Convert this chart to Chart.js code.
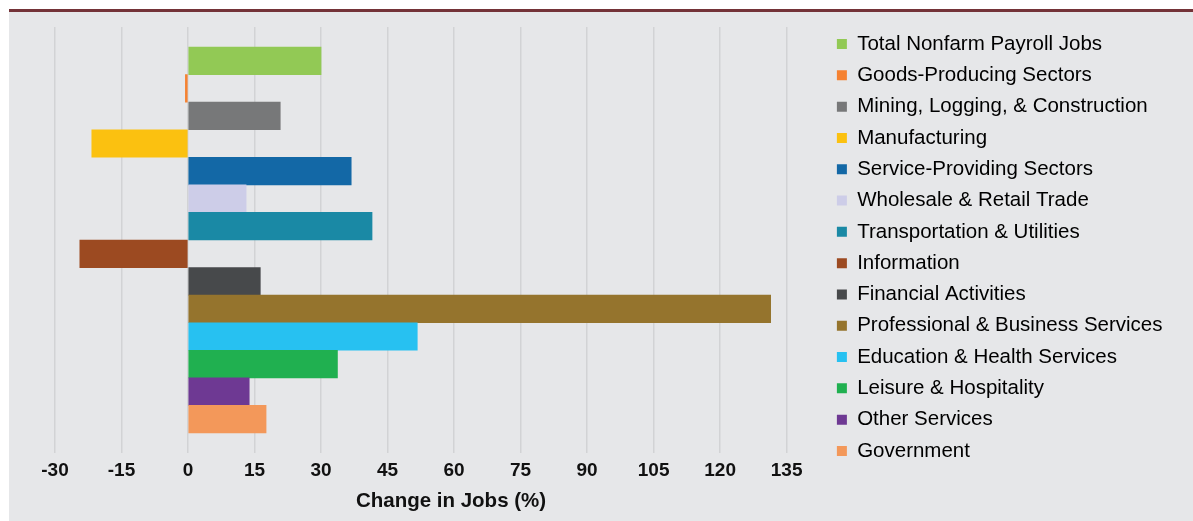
<!DOCTYPE html>
<html>
<head>
<meta charset="utf-8">
<script src="https://cdn.jsdelivr.net/npm/chart.js@4"></script>
<style>
  html, body { margin: 0; padding: 0; background: #fff; }
  #wrap {
    position: absolute; left: 9px; top: 9px;
    width: 1184px; height: 509px;
    border-top: 3px solid #743338;
    background: #e6e7e9;
  }
  canvas { display: block; }
</style>
</head>
<body>
<div id="wrap"><canvas id="jobsChart" width="1184" height="509"></canvas></div>
<script>
const categories = [
  'Total Nonfarm Payroll Jobs',
  'Goods-Producing Sectors',
  'Mining, Logging, & Construction',
  'Manufacturing',
  'Service-Providing Sectors',
  'Wholesale & Retail Trade',
  'Transportation & Utilities',
  'Information',
  'Financial Activities',
  'Professional & Business Services',
  'Education & Health Services',
  'Leisure & Hospitality',
  'Other Services',
  'Government'
];
const jobChange = [30.0, -0.6, 20.8, -21.7, 36.8, 13.1, 41.5, -24.4, 16.3, 131.4, 51.7, 33.7, 13.8, 17.6];
const barColors = [
  '#92c955', '#f58232', '#777879', '#fbc110', '#1368a6', '#cdcde8', '#1a89a5',
  '#9c4a21', '#47494b', '#95742d', '#27c1f1', '#20b050', '#6e3993', '#f3985a'
];
const xTicks = [-30, -15, 0, 15, 30, 45, 60, 75, 90, 105, 120, 135];

const FONT = '"Liberation Sans", Arial, sans-serif';

// axis title drawn by hand, it sits right of the plot centre like the original
const axisTitle = {
  id: 'axisTitle',
  afterDraw(chart) {
    const c = chart.ctx;
    c.save();
    c.font = 'bold 20.5px ' + FONT;
    c.fillStyle = '#111';
    c.textAlign = 'center';
    c.textBaseline = 'alphabetic';
    c.fillText('Change in Jobs (%)', 442, 494.7);
    c.restore();
  }
};

const ctx = document.getElementById('jobsChart').getContext('2d');
const jobsChart = new Chart(ctx, {
  type: 'bar',
  data: {
    datasets: [{
      data: categories.map((c, i) => ({ x: jobChange[i], y: i })),
      backgroundColor: barColors,
      borderWidth: 0,
      barPercentage: 1,
      categoryPercentage: 1
    }]
  },
  options: {
    indexAxis: 'y',
    responsive: false,
    animation: false,
    layout: { padding: { top: 11, bottom: 0, left: 46, right: 20.5 } },
    scales: {
      x: {
        type: 'linear',
        min: -30,
        max: 143.9,
        afterBuildTicks: (s) => { s.ticks = xTicks.map(v => ({ value: v })); },
        afterFit: (s) => { s.height = 68; },
        ticks: { padding: 6, color: '#111', font: { family: FONT, size: 19, weight: 'bold' } },
        grid: { color: '#d2d3d5', lineWidth: 1.5, drawTicks: false },
        border: { display: false }
      },
      xTop: {
        type: 'linear',
        position: 'top',
        afterFit: (s) => { s.height = 4; },
        ticks: { display: false },
        grid: { display: false },
        border: { display: false }
      },
      y: {
        type: 'linear',
        reverse: true,
        offset: false,
        min: -1.226,
        max: 14.226,
        display: false
      }
    },
    plugins: {
      tooltip: { enabled: false },
      legend: {
        position: 'right',
        align: 'start',
        onClick: null,
        labels: {
          boxWidth: 10,
          boxHeight: 10,
          padding: 10.8,
          color: '#1a1a1a',
          font: { family: FONT, size: 20.5 },
          generateLabels: () => categories.map((name, i) => ({
            text: name,
            fillStyle: barColors[i],
            strokeStyle: barColors[i],
            lineWidth: 0,
            hidden: false,
            index: i,
            datasetIndex: 0
          }))
        }
      }
    }
  },
  plugins: [axisTitle]
});
</script>
</body>
</html>
